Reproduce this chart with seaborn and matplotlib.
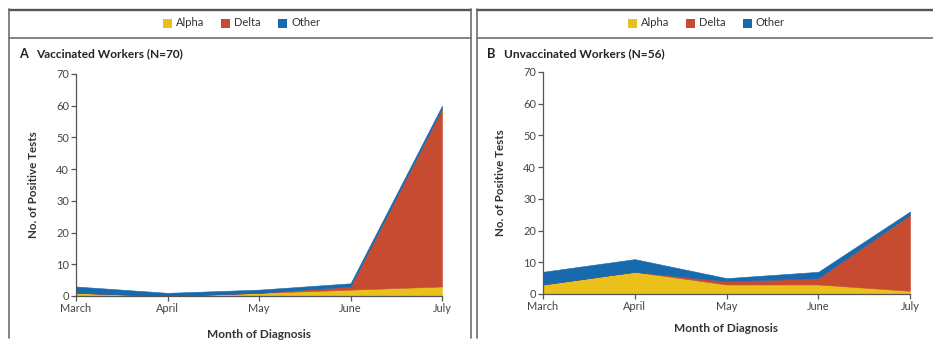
import matplotlib
matplotlib.use("Agg")
import matplotlib.pyplot as plt
from matplotlib.lines import Line2D
from matplotlib.patches import Rectangle
import seaborn as sns
import pandas as pd

# Monthly positive tests by variant
months = ["March", "April", "May", "June", "July"]
variants = ["Alpha", "Delta", "Other"]

vacc_alpha = [1, 0, 1, 2, 3]
vacc_delta = [0, 0, 0, 1, 56]
vacc_other = [2, 1, 1, 1, 1]

unvacc_alpha = [3, 7, 3, 3, 1]
unvacc_delta = [0, 0, 1, 2, 24]
unvacc_other = [4, 4, 1, 2, 1]

y_ticks = [0, 10, 20, 30, 40, 50, 60, 70]

panels = [
    ("A", "Vaccinated Workers (N=70)", vacc_alpha, vacc_delta, vacc_other),
    ("B", "Unvaccinated Workers (N=56)", unvacc_alpha, unvacc_delta, unvacc_other),
]

sns.set_theme(style="ticks")
plt.rcParams["font.family"] = ["Lato", "DejaVu Sans"]

palette = {"Alpha": "#EAC11B", "Delta": "#C74B31", "Other": "#186AAE"}

W, H = 933, 345
fig = plt.figure(figsize=(W / 100, H / 100), dpi=100)
fig.patch.set_facecolor("white")


def fx(px):
    return px / W


def fy(py):
    return 1 - py / H


def hline(x0, x1, y, color, lw):
    fig.add_artist(Line2D([fx(x0), fx(x1)], [fy(y), fy(y)], color=color, lw=lw,
                          transform=fig.transFigure))


def vline(x, y0, y1, color, lw):
    fig.add_artist(Line2D([fx(x), fx(x)], [fy(y0), fy(y1)], color=color, lw=lw,
                          transform=fig.transFigure))


# panel frames: (left, right, axes left, axes right, y of zero, y of 70, xlabel pad)
frames = [
    (9, 471, 76, 442, 296, 74, 11),
    (477, 933, 543, 910, 294, 72, 8),
]

for (letter, title, a, d, o), (pl, pr, axl, axr, y0, y70, xpad) in zip(panels, frames):
    # border of the panel with its header strip
    hline(pl, pr, 9.5, "#555555", 1.7)
    hline(pl, pr, 38, "#6e6e6e", 1.2)
    vline(pl, 9, 338, "#6e6e6e", 1.2)
    if pr < W - 2:
        vline(pr, 9, 338, "#6e6e6e", 1.2)

    # legend inside the header strip
    cx = (pl + pr) / 2 + 4
    items_x = [cx - 81, cx - 23, cx + 34]
    for name, xs in zip(variants, items_x):
        fig.add_artist(Rectangle((fx(xs), fy(27.5)), 8.5 / W, 8.5 / H,
                                 transform=fig.transFigure,
                                 facecolor=palette[name], edgecolor="none"))
        fig.text(fx(xs + 13), fy(23), name, fontsize=8.0, color="#333333",
                 va="center", ha="left")

    # panel title
    fig.text(fx(pl + 10), fy(54), letter, fontsize=9.2, fontweight="bold",
             color="#222222", va="center", ha="left")
    fig.text(fx(pl + 27), fy(54), title, fontsize=8.6, fontweight="bold",
             color="#222222", va="center", ha="left")

    ax = fig.add_axes([fx(axl), fy(y0), (axr - axl) / W, (y0 - y70) / H])
    df = pd.DataFrame({"Alpha": a, "Delta": d, "Other": o}, index=months)
    xs_idx = list(range(len(months)))
    ax.stackplot(xs_idx, df["Alpha"], df["Delta"], df["Other"],
                 colors=[palette[v] for v in variants],
                 edgecolor="face", linewidth=0.4)

    ax.set_xlim(0, len(months) - 1)
    ax.set_ylim(0, 70)
    ax.set_xticks(xs_idx)
    ax.set_xticklabels(months)
    ax.set_yticks(y_ticks)
    ax.set_facecolor("none")
    sns.despine(ax=ax)
    for sp in ("left", "bottom"):
        ax.spines[sp].set_color("#555555")
        ax.spines[sp].set_linewidth(0.9)
    ax.tick_params(axis="both", length=3.5, width=0.9, color="#555555",
                   labelsize=7.9, labelcolor="#444444", pad=1.5)
    ax.set_xlabel("Month of Diagnosis", fontsize=8.6, fontweight="bold",
                  color="#333333", labelpad=xpad)
    ax.set_ylabel("No. of Positive Tests", fontsize=8.4, fontweight="bold",
                  color="#333333", labelpad=12)

fig.savefig("out.png", dpi=100, facecolor="white")
